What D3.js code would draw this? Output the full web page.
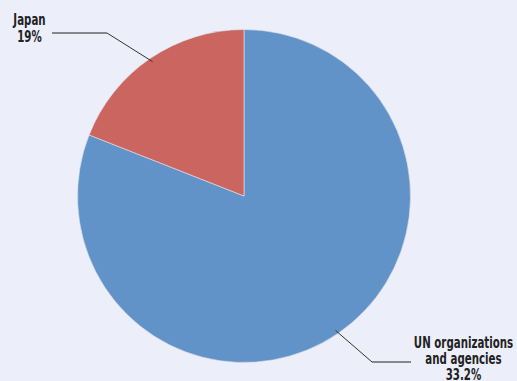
<!DOCTYPE html>
<html lang="en">
<head>
  <meta charset="utf-8">
  <title>Pie</title>
  <script src="https://d3js.org/d3.v7.min.js"></script>
  <style>
    body { margin: 0; background: #eceef9; }
    .lbl { font: bold 15px "DejaVu Sans Condensed", "Liberation Sans Narrow", sans-serif; fill: #222; }
  </style>
</head>
<body>
  <div id="chart"></div>
  <script>
    "use strict"

    var categorias = ["UN organizations and agencies", "Japan"];
    var valores = [33.2, 7.8];
    var rotulos = [["UN organizations", "and agencies", "33.2%"], ["Japan", "19%"]];
    var cores = ["#6193c8", "#cb6560"];

    var largura = 517, altura = 381;
    var cx = 244, cy = 196, raio = 166.5;

    var svg = d3.select("#chart").append("svg")
      .attr("width", largura).attr("height", altura);

    var g = svg.append("g").attr("transform", "translate(" + cx + "," + cy + ")");

    var dados = categorias.map((c, i) => ({ nome: c, valor: valores[i], rotulo: rotulos[i], cor: cores[i] }));

    var pie = d3.pie().value(d => d.valor).sort(null);
    var arc = d3.arc().innerRadius(0).outerRadius(raio);
    var arcos = pie(dados);

    g.selectAll("path").data(arcos).enter().append("path")
      .attr("d", arc)
      .attr("fill", d => d.data.cor)
      .attr("stroke", "#e6e6ee")
      .attr("stroke-width", 0.6);

    // linhas de chamada: ponto no arco, cotovelo, horizontal
    var cotovelo = [[128, 166], [-137, -163]];
    var fimX = [167, -192];
    arcos.forEach(function (d, i) {
      var m = (d.startAngle + d.endAngle) / 2;
      var p0 = [Math.sin(m) * (raio - 4), -Math.cos(m) * (raio - 4)];
      var p1 = cotovelo[i];
      g.append("path")
        .attr("d", d3.line()([p0, p1]))
        .attr("stroke", "#333").attr("stroke-width", 1).attr("fill", "none");
      g.append("path")
        .attr("d", d3.line()([p1, [fimX[i], p1[1]]]))
        .attr("stroke", "#666").attr("stroke-width", 1.3).attr("fill", "none");
    });

    // posicao dos rotulos (centro, primeira linha de base, entrelinha)
    var posRotulo = [[219.5, 152, 16], [-214.5, -171, 17.5]];
    rotulos.forEach(function (linhas, i) {
      var p = posRotulo[i];
      var t = g.append("text").attr("class", "lbl").attr("text-anchor", "middle")
        .attr("transform", "translate(" + p[0] + "," + p[1] + ") scale(0.76,1)");
      linhas.forEach(function (s, j) {
        t.append("tspan").attr("x", 0).attr("y", j * p[2]).text(s);
      });
    });
  </script>
</body>
</html>
